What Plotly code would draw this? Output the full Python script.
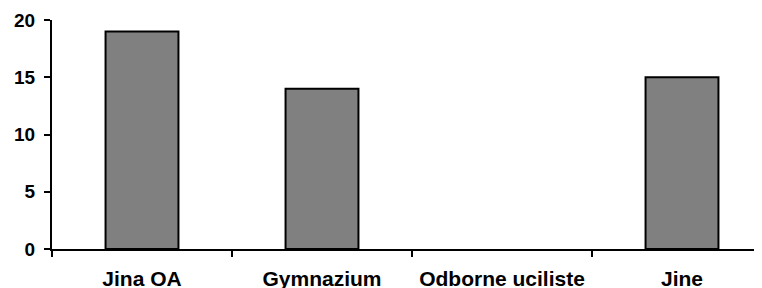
import plotly.graph_objects as go

categories = ["Jina OA", "Gymnazium", "Odborne uciliste", "Jine"]
values = [19, 14, 0, 15]
y_ticks = [0, 5, 10, 15, 20]

outline = [2 if v > 0 else 0 for v in values]

fig = go.Figure(go.Bar(
    x=categories, y=values,
    marker=dict(color="#808080", line=dict(color="black", width=outline)),
    width=0.405,
))

# page body has an 8px margin; margins compensate for it
fig.update_layout(
    width=762, height=288,
    margin=dict(l=44, r=0, t=12, b=47, autoexpand=False),
    plot_bgcolor="white", paper_bgcolor="white",
    showlegend=False,
    font=dict(family="Liberation Sans, Arial", color="black"),
)
fig.update_xaxes(
    type="category", range=[-0.5, -0.5 + 718/180], automargin=False,
    showline=True, linecolor="black", linewidth=2,
    ticks="outside", tickson="boundaries", ticklen=6, tickwidth=2, tickcolor="black",
    tickfont=dict(size=21, family="Liberation Sans, Arial", weight="bold"),
    ticklabelstandoff=10,
    showgrid=False, zeroline=False,
)
fig.update_yaxes(
    range=[0, 20], tickvals=y_ticks, automargin=False,
    showline=True, linecolor="black", linewidth=2,
    ticks="outside", ticklen=6, tickwidth=2, tickcolor="black",
    tickfont=dict(size=19, family="Liberation Sans, Arial", weight="bold"),
    ticklabelstandoff=5,
    showgrid=False, zeroline=False,
)

fig.write_html("out.html")
